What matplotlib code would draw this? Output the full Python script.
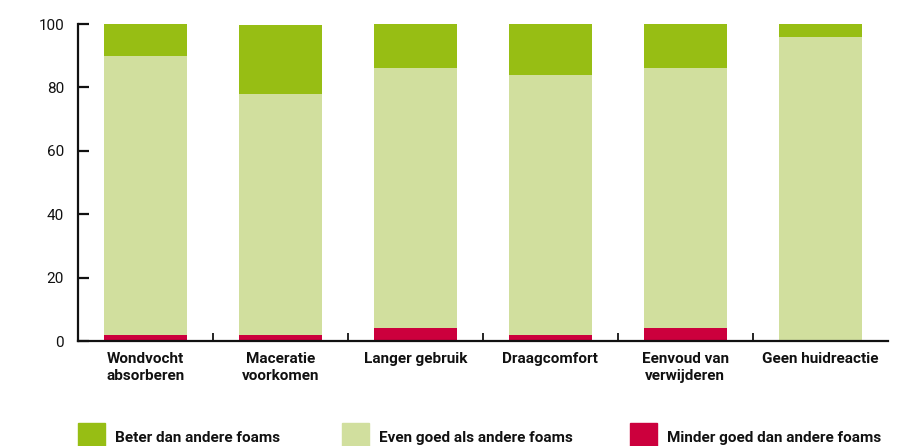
import matplotlib.pyplot as plt
from matplotlib.patches import Rectangle
from matplotlib import font_manager

names = {f.name for f in font_manager.fontManager.ttflist}
fam = ['Liberation Sans Narrow', 'DejaVu Sans'] if 'Liberation Sans Narrow' in names else ['Roboto', 'DejaVu Sans']
plt.rcParams['font.family'] = fam

categories = ['Wondvocht\nabsorberen', 'Maceratie\nvoorkomen', 'Langer gebruik',
              'Draagcomfort', 'Eenvoud van\nverwijderen', 'Geen huidreactie']
minder = [2, 2, 4, 2, 4, 0]
even = [88, 76, 82, 82, 82, 96]
beter = [10, 21.6, 14, 16, 14, 4]
series_labels = ['Beter dan andere foams', 'Even goed als andere foams', 'Minder goed dan andere foams']
c_beter = '#97be14'
c_even = '#d1df9e'
c_minder = '#cc003d'

fig = plt.figure(figsize=(9.06, 4.46), dpi=100)
ax = fig.add_axes([0.086, 0.2354, 0.894, 0.7106])

x = range(len(categories))
w = 0.61
ax.bar(x, minder, w, color=c_minder)
ax.bar(x, even, w, bottom=minder, color=c_even)
bot2 = [a + b for a, b in zip(minder, even)]
ax.bar(x, beter, w, bottom=bot2, color=c_beter)

ax.set_xlim(-0.5, len(categories) - 0.5)
ax.set_ylim(0, 100)
ax.set_yticks(range(0, 101, 20))
for s in ['top', 'right']:
    ax.spines[s].set_visible(False)
for s in ['left', 'bottom']:
    ax.spines[s].set_linewidth(1.6)
    ax.spines[s].set_color('#111111')
ax.tick_params(axis='y', direction='in', length=8, width=1.6, labelsize=11, pad=10, colors='#111111')

ax.set_xticks([i + 0.5 for i in range(len(categories) - 1)], minor=True)
ax.set_xticks(list(x))
ax.set_xticklabels(categories, fontsize=11, fontweight='bold', color='#111111', linespacing=1.25)
ax.tick_params(axis='x', which='major', length=0, pad=8)
ax.tick_params(axis='x', which='minor', direction='in', length=6, width=1.2)

leg_x = [78, 342, 630]
leg_colors = [c_beter, c_even, c_minder]
for lx, col, lab in zip(leg_x, leg_colors, series_labels):
    fig.add_artist(Rectangle((lx / 906, 0), 27 / 906, 23 / 446, transform=fig.transFigure,
                             color=col, clip_on=False))
    fig.text((lx + 37) / 906, 1 - 438 / 446, lab, fontsize=11, fontweight='bold',
             color='#111111', va='center', ha='left')

fig.savefig('out.png', dpi=100)
